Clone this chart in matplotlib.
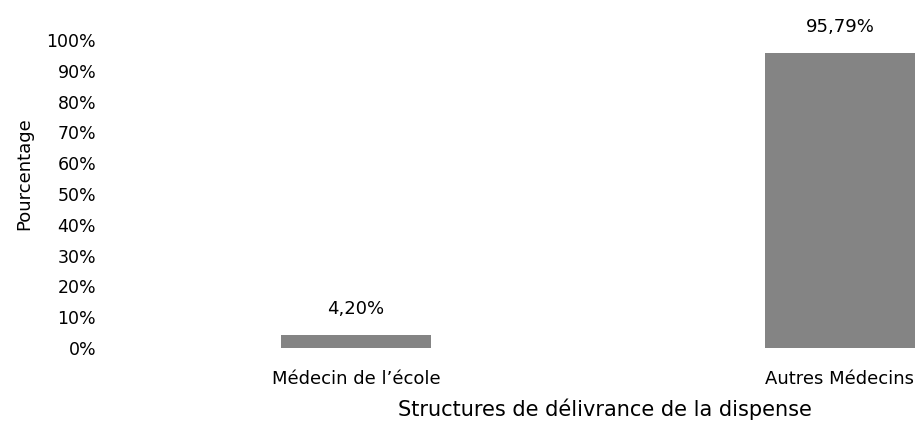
import matplotlib.pyplot as plt

categories = ['Médecin de l\u2019école', 'Autres Médecins']
values = [4.20, 95.79]
labels = ['4,20%', '95,79%']
yticks = [0, 10, 20, 30, 40, 50, 60, 70, 80, 90, 100]

plt.rcParams['font.family'] = ['DejaVu Sans']

fig = plt.figure(figsize=(9.15, 4.26), dpi=100)
ax = fig.add_axes([117 / 915, 78 / 426, 798 / 915, 308 / 426])

x = range(len(categories))
bars = ax.bar(x, values, width=0.31, color='#848484')

for b, lab in zip(bars, labels):
    ax.annotate(lab, (b.get_x() + b.get_width() / 2, b.get_height()),
                xytext=(0, 12), textcoords='offset points',
                ha='center', va='bottom', fontsize=13)

ax.set_xlim(-0.494, 1.155)
ax.set_ylim(0, 100)
ax.set_yticks(yticks)
ax.set_yticklabels([f'{t}%' for t in yticks], fontsize=12.5)
ax.set_xticks(list(x))
ax.set_xticklabels(categories, fontsize=13)
ax.tick_params(length=0, pad=15, axis='y')
ax.tick_params(length=0, pad=16, axis='x')
for s in ax.spines.values():
    s.set_visible(False)

fig.text(24 / 915, 1 - 174 / 426, 'Pourcentage', rotation=90,
         ha='center', va='center', fontsize=13)
fig.text(605 / 915, 1 - 409 / 426, 'Structures de délivrance de la dispense',
         ha='center', va='center', fontsize=15)

fig.savefig('out.png')
